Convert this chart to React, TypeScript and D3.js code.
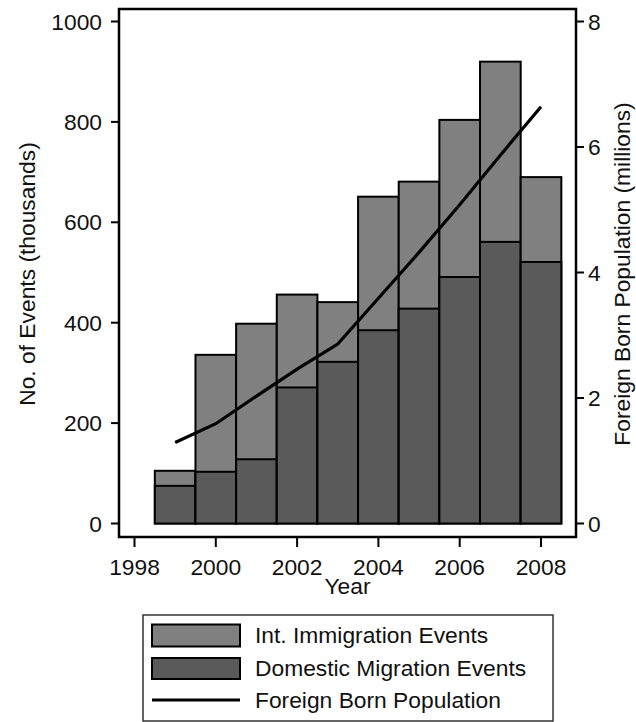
import React from "react";
import * as d3 from "d3";

const years = [1999, 2000, 2001, 2002, 2003, 2004, 2005, 2006, 2007, 2008];
const domesticEvents = [75, 103, 128, 271, 322, 385, 428, 491, 561, 521];
const immigrationEvents = [30, 233, 270, 185, 119, 266, 253, 313, 359, 169];
const foreignBorn = [1.29, 1.59, 2.03, 2.46, 2.86, 3.59, 4.32, 5.08, 5.87, 6.64];
const xTicks = [1998, 2000, 2002, 2004, 2006, 2008];
const yLeftTicks = [0, 200, 400, 600, 800, 1000];
const yRightTicks = [0, 2, 4, 6, 8];
const legendLabels = ["Int. Immigration Events", "Domestic Migration Events", "Foreign Born Population"];

const FONT = "Arial, 'Liberation Sans', sans-serif";
const FS = 22.8;
const LIGHT = "#808080";
const DARK = "#5a5a5a";

export default function App() {
  const x = d3.scaleLinear().domain([1998, 2008]).range([134.5, 541]);
  const yL = d3.scaleLinear().domain([0, 1000]).range([523.5, 21.5]);
  const yR = d3.scaleLinear().domain([0, 8]).range([523.5, 21.5]);
  const frame = { x0: 119, y0: 9, x1: 576, y1: 537 };

  const line = d3
    .line<number>()
    .x((_, i) => x(years[i]))
    .y((d) => yR(d));

  return (
    <svg width={636} height={722} style={{ position: "absolute", left: 0, top: 0 }} fontFamily={FONT}>
      <rect x={0} y={0} width={636} height={722} fill="#fff" />
      {/* bars */}
      {years.map((yr, i) => {
        const total = domesticEvents[i] + immigrationEvents[i];
        const bx = x(yr - 0.5);
        const bw = x(yr + 0.5) - x(yr - 0.5);
        return (
          <g key={yr}>
            <rect x={bx} y={yL(total)} width={bw} height={yL(0) - yL(total)} fill={LIGHT} stroke="#000" strokeWidth={2} />
            <rect x={bx} y={yL(domesticEvents[i])} width={bw} height={yL(0) - yL(domesticEvents[i])} fill={DARK} stroke="#000" strokeWidth={2} />
          </g>
        );
      })}
      {/* line */}
      <path d={line(foreignBorn) || ""} fill="none" stroke="#000" strokeWidth={3.2} />
      {/* frame */}
      <rect x={frame.x0} y={frame.y0} width={frame.x1 - frame.x0} height={frame.y1 - frame.y0} fill="none" stroke="#000" strokeWidth={2.5} />
      {/* left axis ticks */}
      {yLeftTicks.map((t) => (
        <g key={"l" + t}>
          <line x1={111} x2={frame.x0} y1={yL(t)} y2={yL(t)} stroke="#000" strokeWidth={2} />
          <text x={102} y={yL(t)} textAnchor="end" dominantBaseline="central" fontSize={FS} fill="#111">
            {t}
          </text>
        </g>
      ))}
      {/* right axis ticks */}
      {yRightTicks.map((t) => (
        <g key={"r" + t}>
          <line x1={frame.x1} x2={584} y1={yR(t)} y2={yR(t)} stroke="#000" strokeWidth={2} />
          <text x={588} y={yR(t)} textAnchor="start" dominantBaseline="central" fontSize={FS} fill="#111">
            {t}
          </text>
        </g>
      ))}
      {/* x axis ticks */}
      {xTicks.map((t) => (
        <g key={"x" + t}>
          <line x1={x(t)} x2={x(t)} y1={frame.y1} y2={547} stroke="#000" strokeWidth={2} />
          <text x={x(t)} y={567} textAnchor="middle" dominantBaseline="central" fontSize={FS} fill="#111">
            {t}
          </text>
        </g>
      ))}
      {/* axis titles */}
      <text x={347.5} y={586} textAnchor="middle" dominantBaseline="central" fontSize={FS} fill="#111">
        Year
      </text>
      <text transform="translate(27,274) rotate(-90)" textAnchor="middle" dominantBaseline="central" fontSize={FS} fill="#111">
        No. of Events (thousands)
      </text>
      <text transform="translate(622,274) rotate(-90)" textAnchor="middle" dominantBaseline="central" fontSize={FS} fill="#111">
        Foreign Born Population (millions)
      </text>
      {/* legend */}
      <rect x={143} y={615} width={410} height={106} fill="#fff" stroke="#333" strokeWidth={1.5} />
      <rect x={152} y={624.5} width={88} height={22} fill={LIGHT} stroke="#000" strokeWidth={2} />
      <rect x={152} y={658} width={88} height={21} fill={DARK} stroke="#000" strokeWidth={2} />
      <line x1={152} x2={240} y1={700} y2={700} stroke="#000" strokeWidth={3} />
      {legendLabels.map((l, i) => (
        <text key={l} x={255} y={[635, 668, 700][i]} dominantBaseline="central" fontSize={FS} fill="#111">
          {l}
        </text>
      ))}
    </svg>
  );
}
